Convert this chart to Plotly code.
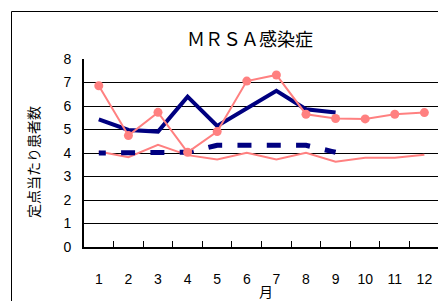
import plotly.graph_objects as go

months = ["1", "2", "3", "4", "5", "6", "7", "8", "9", "10", "11", "12"]
pink_markers = [6.86, 4.74, 5.73, 4.03, 4.91, 7.06, 7.32, 5.65, 5.47, 5.45, 5.65, 5.72]
pink_thin = [4.06, 3.82, 4.35, 3.91, 3.72, 4.01, 3.72, 4.01, 3.63, 3.80, 3.80, 3.93]
navy_thick = [5.43, 4.98, 4.91, 6.40, 5.15, 5.90, 6.65, 5.86, 5.72]
navy_dash = [4.0, 4.0, 4.0, 4.03, 4.33, 4.33, 4.33, 4.33, 4.03]
y_ticks = [0, 1, 2, 3, 4, 5, 6, 7, 8]

W, H = 438, 301
L, R, T, B = 84, 0, 59, 54
pw = W - L - R
ph = H - T - B

def px2paper_x(px):
    return (px - L) / pw

def px2paper_y(py):
    return (H - B - py) / ph

fig = go.Figure()
fig.add_trace(go.Scatter(x=months, y=pink_thin, mode="lines",
                         line=dict(color="#FF8080", width=2), hoverinfo="skip"))
fig.add_trace(go.Scatter(x=months[:len(navy_dash)], y=navy_dash, mode="lines",
                         line=dict(color="#000080", width=5,
                                   dash="7px,15.3px,14px,15.3px,7px,0px"),
                         hoverinfo="skip"))
fig.add_trace(go.Scatter(x=months[:len(navy_thick)], y=navy_thick, mode="lines",
                         line=dict(color="#000080", width=4), hoverinfo="skip"))
fig.add_trace(go.Scatter(x=months, y=pink_markers, mode="lines+markers",
                         line=dict(color="#FF8080", width=2),
                         marker=dict(color="#FF8080", size=9), hoverinfo="skip"))

fig.update_layout(
    width=W, height=H,
    margin=dict(l=L, r=R, t=T, b=B, pad=0),
    paper_bgcolor="white", plot_bgcolor="white",
    showlegend=False,
    font=dict(family="Liberation Sans, Arial, sans-serif", color="black", size=14),
    xaxis=dict(type="category", range=[-0.5, 11.46], tickson="boundaries",
               ticks="inside", ticklen=6, tickwidth=1, tickcolor="black",
               showline=True, linecolor="black", linewidth=2, showgrid=False,
               zeroline=False, ticklabelstandoff=18,
               tickfont=dict(size=14)),
    yaxis=dict(range=[0, 8], tickvals=y_ticks, ticktext=[str(v) for v in y_ticks],
               ticks="inside", ticklen=6, tickwidth=1, tickcolor="black",
               showline=True, linecolor="black", linewidth=2,
               showgrid=True, gridcolor="black", gridwidth=1,
               zeroline=False, ticklabelstandoff=8,
               tickfont=dict(size=14)),
)

fig.add_annotation(text="ＭＲＳＡ感染症", xref="paper", yref="paper",
                   x=px2paper_x(250), y=px2paper_y(38), showarrow=False,
                   xanchor="center", yanchor="middle",
                   font=dict(family="Noto Sans CJK JP", size=18, color="black"))
fig.add_annotation(text="定点当たり患者数", xref="paper", yref="paper",
                   x=px2paper_x(33), y=px2paper_y(162), showarrow=False,
                   textangle=-90, xanchor="center", yanchor="middle",
                   font=dict(family="Noto Sans CJK JP", size=14, color="black"))
fig.add_annotation(text="月", xref="paper", yref="paper",
                   x=px2paper_x(266), y=px2paper_y(291), showarrow=False,
                   xanchor="center", yanchor="middle",
                   font=dict(family="Noto Sans CJK JP", size=14, color="black"))

# outer chart border (left and top edges)
fig.add_shape(type="path", xref="paper", yref="paper",
              path=f"M {px2paper_x(11.5)} {px2paper_y(305)} L {px2paper_x(11.5)} {px2paper_y(11.5)} L {px2paper_x(440)} {px2paper_y(11.5)}",
              line=dict(color="black", width=1))

fig.write_html("out.html", config={"displayModeBar": False, "staticPlot": True},
               post_script="document.body.style.margin='0px';document.body.style.overflow='hidden';")
